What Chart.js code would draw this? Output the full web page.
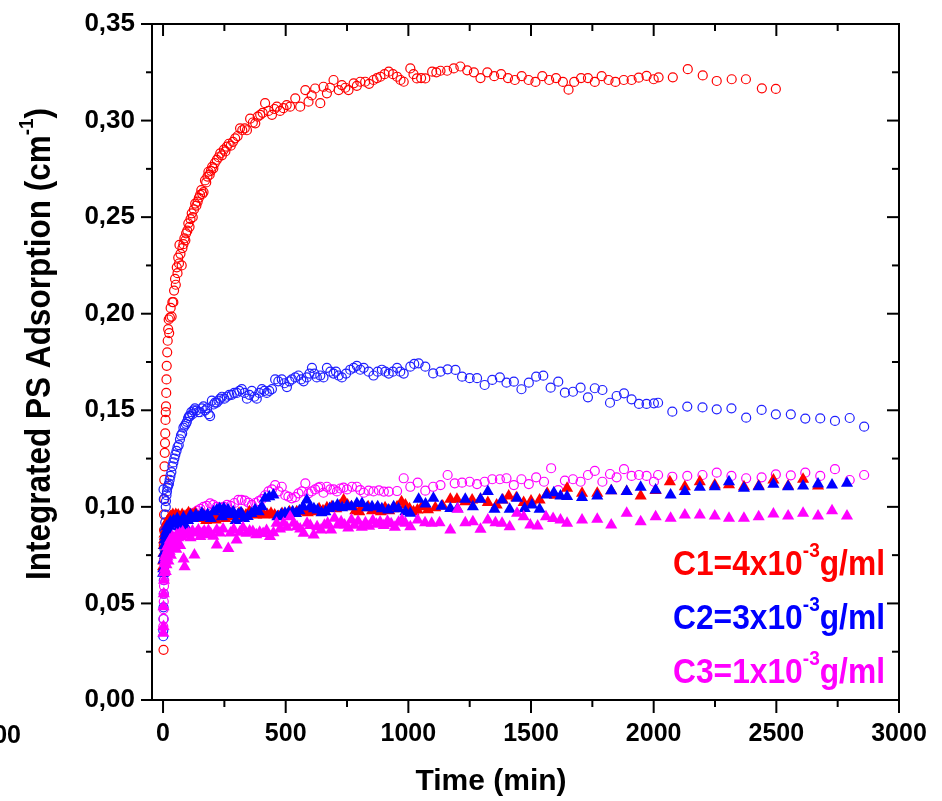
<!DOCTYPE html>
<html>
<head>
<meta charset="utf-8">
<title>Integrated PS Adsorption vs Time</title>
<script src="https://cdn.jsdelivr.net/npm/chart.js@4.4.1/dist/chart.umd.min.js"></script>
<style>
  html, body { margin: 0; padding: 0; background: #fff; }
  #chart { display: block; }
</style>
</head>
<body>
<canvas id="chart" width="942" height="801"></canvas>
<script>
// ── Axis data ───────────────────────────────────────────
const X_TICKS = [0, 500, 1000, 1500, 2000, 2500, 3000];
const X_MINOR = [250, 750, 1250, 1750, 2250, 2750];
const Y_TICKS = [0, 0.05, 0.1, 0.15, 0.2, 0.25, 0.3, 0.35];
const Y_MINOR = [0.025, 0.075, 0.125, 0.175, 0.225, 0.275, 0.325];
const X_TITLE = "Time (min)";
const Y_TITLE = ["Integrated PS Adsorption (cm", "-1", ")"];
const LABELS = [
  ["C1=4x10", "-3", "g/ml"],
  ["C2=3x10", "-3", "g/ml"],
  ["C3=1x10", "-3", "g/ml"],
];
const STRAY_LABEL = "00";

// ── Series: [time (min), adsorption (cm^-1)] ─────────────
// open circles
const RED_CIRCLES = [
  [2,0.026],[3,0.072],[3,0.080],[4,0.088],[4,0.096],[5,0.104],[5,0.114],[6,0.121],[7,0.128],[8,0.133],
  [9,0.138],[10,0.145],[11,0.149],[12,0.152],[13,0.159],[14,0.166],[15,0.173],[17,0.180],[19,0.186],[21,0.192],
  [23,0.197],[25,0.190],[28,0.198],[31,0.203],[35,0.1985],[38,0.206],[42,0.206],[45,0.212],[49,0.218],[52,0.215],
  [56,0.224],[59,0.221],[62,0.229],[65,0.226],[67,0.2356],[71,0.231],[76,0.225],[79,0.234],[83,0.236],[87,0.239],
  [91,0.238],[94,0.2416],[99,0.243],[103,0.2468],[108,0.245],[112,0.249],[117,0.252],[121,0.250],[126,0.254],[131,0.257],
  [136,0.256],[141,0.258],[146,0.260],[151,0.2615],[156,0.264],[160,0.262],[165,0.263],[171,0.269],[176,0.268],[181,0.271],
  [185,0.2735],[190,0.272],[195,0.274],[200,0.276],[205,0.2753],[211,0.278],[219,0.2796],[226,0.281],[233,0.283],[240,0.282],
  [248,0.285],[254,0.284],[260,0.2865],[268,0.288],[276,0.287],[285,0.289],[294,0.2908],[304,0.292],[314,0.296],[323,0.295],
  [333,0.296],[342,0.295],[355,0.301],[366,0.299],[376,0.2986],[386,0.302],[396,0.303],[406,0.304],[416,0.309],[430,0.305],
  [444,0.303],[454,0.306],[464,0.3072],[477,0.305],[491,0.3064],[504,0.308],[518,0.3072],[539,0.3115],[559,0.3072],[580,0.3158],
  [593,0.3098],[606,0.313],[620,0.3166],[641,0.309],[654,0.3175],[668,0.3141],[681,0.317],[695,0.321],[716,0.3158],[729,0.3184],
  [743,0.317],[756,0.3158],[777,0.3193],[790,0.318],[804,0.3201],[824,0.3201],[840,0.319],[858,0.321],[872,0.322],[886,0.3227],
  [903,0.324],[920,0.3253],[937,0.324],[954,0.3227],[968,0.321],[981,0.3201],[1008,0.327],[1021,0.324],[1035,0.3218],[1052,0.322],
  [1069,0.3218],[1097,0.3253],[1114,0.325],[1131,0.3258],[1158,0.3258],[1185,0.327],[1212,0.328],[1240,0.326],[1267,0.325],[1294,0.322],
  [1322,0.325],[1350,0.323],[1378,0.324],[1406,0.322],[1434,0.321],[1462,0.323],[1490,0.321],[1518,0.320],[1546,0.323],[1574,0.321],
  [1602,0.322],[1630,0.320],[1653,0.316],[1676,0.320],[1704,0.322],[1732,0.322],[1760,0.320],[1788,0.323],[1816,0.321],[1844,0.320],
  [1878,0.321],[1910,0.321],[1939,0.3222],[1971,0.3231],[2000,0.3214],[2020,0.3224],[2078,0.3224],[2139,0.3266],[2200,0.3234],[2257,0.3205],
  [2318,0.3214],[2376,0.3214],[2441,0.3167],[2498,0.3164],
];
const BLUE_CIRCLES = [
  [1,0.033],[1,0.036],[2,0.042],[2,0.048],[3,0.055],[3,0.062],[4,0.068],[5,0.073],[6,0.078],[7,0.083],
  [8,0.088],[9,0.092],[10,0.096],[11,0.100],[2,0.109],[3,0.104],[12,0.103],[14,0.106],[16,0.108],[18,0.110],
  [21,0.111],[24,0.112],[27,0.114],[30,0.116],[34,0.118],[38,0.121],[42,0.123],[46,0.125],[50,0.127],[55,0.129],
  [59,0.131],[64,0.132],[69,0.135],[73,0.137],[78,0.138],[83,0.141],[88,0.142],[93,0.143],[97,0.144],[102,0.146],
  [106,0.147],[110,0.147],[115,0.149],[120,0.148],[124,0.150],[130,0.151],[137,0.150],[144,0.149],[151,0.149],[158,0.151],
  [165,0.152],[172,0.150],[180,0.151],[186,0.148],[192,0.147],[199,0.155],[206,0.153],[212,0.154],[219,0.154],[226,0.155],
  [233,0.156],[240,0.157],[250,0.156],[260,0.157],[270,0.158],[280,0.158],[290,0.159],[301,0.159],[311,0.160],[321,0.161],
  [332,0.159],[342,0.156],[352,0.158],[362,0.160],[372,0.157],[382,0.156],[392,0.159],[403,0.161],[413,0.160],[423,0.159],
  [433,0.160],[444,0.161],[457,0.166],[470,0.165],[484,0.166],[495,0.164],[505,0.162],[515,0.165],[525,0.166],[539,0.167],
  [552,0.168],[563,0.166],[573,0.165],[586,0.167],[597,0.169],[607,0.172],[617,0.169],[627,0.167],[641,0.168],[654,0.167],
  [668,0.172],[682,0.170],[695,0.169],[705,0.170],[716,0.168],[729,0.167],[746,0.169],[763,0.171],[777,0.172],[790,0.173],
  [804,0.171],[818,0.172],[838,0.170],[858,0.168],[875,0.170],[892,0.171],[906,0.170],[920,0.169],[937,0.170],[954,0.172],
  [967,0.170],[981,0.169],[1008,0.1726],[1024,0.174],[1042,0.1743],[1069,0.1726],[1101,0.1691],[1131,0.170],[1160,0.1712],[1192,0.1709],
  [1219,0.1674],[1250,0.1666],[1280,0.1666],[1311,0.1631],[1342,0.1657],[1373,0.167],[1400,0.1643],[1430,0.1648],[1461,0.1609],[1491,0.1643],
  [1521,0.1674],[1550,0.1679],[1580,0.1617],[1611,0.1648],[1638,0.1591],[1671,0.1596],[1702,0.1617],[1732,0.1567],[1760,0.1614],[1791,0.1605],
  [1822,0.1539],[1849,0.1574],[1879,0.1588],[1910,0.1557],[1940,0.1533],[1971,0.1533],[2001,0.1536],[2018,0.1539],[2076,0.1493],[2137,0.1519],
  [2199,0.1515],[2257,0.1505],[2317,0.151],[2377,0.1462],[2440,0.1502],[2498,0.1479],[2559,0.1479],[2618,0.1457],[2679,0.1458],[2739,0.1445],
  [2799,0.146],[2858,0.1415],
];
const MAGENTA_CIRCLES = [
  [1,0.038],[2,0.042],[2,0.047],[3,0.051],[3,0.055],[4,0.059],[5,0.062],[6,0.066],[8,0.070],[10,0.073],
  [13,0.076],[16,0.079],[20,0.081],[25,0.083],[30,0.085],[36,0.087],[43,0.088],[50,0.089],[58,0.090],[66,0.091],
  [75,0.092],[85,0.093],[95,0.094],[105,0.095],[116,0.096],[128,0.097],[140,0.098],[152,0.099],[165,0.100],[178,0.1005],
  [192,0.1018],[205,0.101],[219,0.100],[233,0.0995],[247,0.100],[261,0.101],[275,0.1005],[291,0.102],[307,0.1036],[320,0.1036],
  [334,0.1032],[348,0.1022],[362,0.101],[376,0.102],[390,0.103],[403,0.104],[416,0.106],[430,0.108],[444,0.109],[457,0.1113],
  [471,0.108],[484,0.1104],[498,0.106],[511,0.1053],[525,0.1044],[539,0.105],[552,0.107],[566,0.108],[580,0.1122],[593,0.107],
  [606,0.108],[620,0.109],[633,0.110],[641,0.1104],[654,0.1073],[668,0.1104],[682,0.109],[695,0.1091],[709,0.108],[723,0.1095],
  [736,0.110],[750,0.109],[770,0.1104],[790,0.1104],[804,0.1087],[818,0.1073],[838,0.1084],[858,0.108],[880,0.1085],[900,0.1079],
  [920,0.1079],[954,0.1082],[981,0.1148],[1008,0.1104],[1038,0.1125],[1069,0.1084],[1101,0.1104],[1131,0.1113],[1160,0.1165],[1189,0.1122],
  [1219,0.1125],[1250,0.113],[1280,0.1118],[1311,0.113],[1342,0.1143],[1373,0.1143],[1400,0.1148],[1430,0.1113],[1461,0.1143],[1491,0.1118],
  [1521,0.1153],[1553,0.113],[1582,0.120],[1611,0.1087],[1638,0.1136],[1671,0.1143],[1702,0.113],[1732,0.1165],[1760,0.1186],[1791,0.113],
  [1822,0.117],[1849,0.1153],[1879,0.1195],[1910,0.116],[1940,0.1165],[1971,0.116],[2001,0.113],[2018,0.1165],[2076,0.1156],[2137,0.116],
  [2199,0.1165],[2257,0.1177],[2317,0.116],[2377,0.1148],[2440,0.1153],[2498,0.1168],[2559,0.1163],[2618,0.1177],[2679,0.116],[2739,0.1195],
  [2799,0.1139],[2858,0.1165],
];
// filled triangles
const RED_TRIANGLES = [
  [0,0.069],[1,0.072],[2,0.076],[3,0.080],[4,0.083],[6,0.086],[8,0.0846],[10,0.088],[13,0.090],[16,0.092],
  [19,0.093],[22,0.0915],[26,0.094],[30,0.095],[35,0.0949],[40,0.096],[46,0.094],[52,0.096],[58,0.095],[62,0.0958],
  [70,0.094],[78,0.096],[86,0.095],[95,0.0955],[104,0.097],[113,0.096],[122,0.0958],[131,0.0967],[142,0.095],[153,0.094],
  [165,0.0958],[176,0.093],[188,0.0945],[200,0.096],[215,0.0932],[228,0.095],[240,0.0958],[254,0.094],[268,0.0955],[282,0.0967],
  [296,0.095],[310,0.0967],[324,0.096],[338,0.0958],[352,0.0975],[366,0.096],[380,0.0958],[395,0.097],[410,0.0958],[425,0.096],
  [440,0.0967],[455,0.0958],[470,0.095],[485,0.0966],[500,0.096],[515,0.0975],[530,0.097],[545,0.0975],[560,0.0975],[575,0.098],
  [590,0.097],[605,0.0985],[620,0.0975],[636,0.099],[652,0.098],[668,0.0995],[688,0.1001],[706,0.099],[720,0.1005],[736,0.1036],
  [752,0.101],[768,0.1001],[784,0.098],[800,0.0975],[818,0.0995],[836,0.1001],[852,0.098],[870,0.099],[888,0.0975],[905,0.0995],
  [922,0.098],[938,0.099],[954,0.1001],[972,0.1027],[988,0.101],[1005,0.099],[1021,0.0975],[1037,0.0984],[1055,0.100],[1080,0.0985],
  [1110,0.0995],[1140,0.1005],[1171,0.1039],[1198,0.1039],[1232,0.1027],[1260,0.1036],[1294,0.1039],[1324,0.1022],[1360,0.101],[1385,0.1035],
  [1409,0.1056],[1440,0.1047],[1470,0.1022],[1500,0.103],[1535,0.1036],[1566,0.107],[1597,0.106],[1647,0.1096],[1708,0.107],[1770,0.107],
  [1827,0.1084],[1890,0.1079],[1947,0.1056],[2008,0.1085],[2066,0.113],[2127,0.1104],[2188,0.113],[2249,0.1113],[2307,0.1115],[2368,0.1104],
  [2428,0.1108],[2488,0.1139],[2548,0.1108],[2609,0.1143],[2670,0.1108],
];
const BLUE_TRIANGLES = [
  [0,0.0656],[1,0.068],[2,0.0725],[3,0.076],[5,0.080],[7,0.0828],[9,0.085],[12,0.087],[15,0.0897],[19,0.088],
  [24,0.090],[30,0.0923],[36,0.091],[43,0.093],[50,0.0923],[58,0.094],[66,0.0897],[74,0.092],[83,0.0945],[92,0.090],
  [102,0.093],[112,0.0958],[122,0.094],[134,0.0958],[146,0.0945],[158,0.0967],[170,0.095],[182,0.096],[194,0.094],[206,0.0975],
  [219,0.0984],[231,0.0992],[240,0.0949],[248,0.0992],[257,0.097],[265,0.0985],[275,0.096],[286,0.0975],[296,0.093],[306,0.096],
  [318,0.097],[330,0.094],[345,0.095],[360,0.0965],[375,0.0985],[390,0.0975],[403,0.100],[416,0.1044],[433,0.1052],[450,0.1061],
  [466,0.0949],[482,0.096],[497,0.0967],[512,0.097],[528,0.0975],[542,0.0965],[556,0.098],[571,0.100],[586,0.1036],[600,0.1001],
  [615,0.099],[630,0.0984],[646,0.097],[662,0.0975],[679,0.0992],[693,0.1001],[711,0.101],[730,0.0995],[750,0.1005],[768,0.100],
  [790,0.1018],[811,0.1018],[832,0.0995],[852,0.1001],[875,0.1001],[892,0.099],[918,0.0984],[940,0.1001],[960,0.099],[988,0.0975],
  [1008,0.0967],[1042,0.1039],[1070,0.1015],[1102,0.1044],[1135,0.1003],[1171,0.0992],[1200,0.099],[1232,0.1039],[1263,0.1001],[1294,0.1039],
  [1324,0.1079],[1351,0.0987],[1382,0.1036],[1413,0.0987],[1443,0.1044],[1474,0.0992],[1504,0.101],[1535,0.0987],[1563,0.1061],[1593,0.1073],
  [1620,0.1056],[1647,0.1053],[1708,0.1049],[1770,0.1056],[1827,0.1084],[1890,0.1079],[1947,0.1101],[2008,0.1087],[2069,0.1061],[2127,0.1079],
  [2188,0.1101],[2249,0.1104],[2307,0.113],[2368,0.1096],[2428,0.1104],[2488,0.1117],[2548,0.1104],[2609,0.1108],[2670,0.1118],[2727,0.1113],
  [2788,0.1122],
];
const MAGENTA_TRIANGLES = [
  [1,0.0345],[2,0.038],[2,0.0483],[3,0.055],[4,0.062],[5,0.066],[6,0.0705],[7,0.068],[8,0.0742],[9,0.072],
  [10,0.073],[11,0.0665],[13,0.076],[14,0.070],[16,0.0794],[18,0.074],[20,0.078],[22,0.072],[24,0.081],[27,0.077],
  [28,0.0828],[32,0.075],[33,0.080],[38,0.0845],[40,0.079],[44,0.083],[46,0.081],[50,0.0828],[54,0.078],[56,0.0855],
  [60,0.0815],[62,0.084],[68,0.0862],[70,0.080],[74,0.0845],[80,0.087],[84,0.073],[88,0.069],[96,0.0855],[104,0.0865],
  [112,0.084],[120,0.0875],[128,0.0751],[136,0.0865],[144,0.088],[152,0.0846],[160,0.0863],[168,0.0875],[176,0.0855],[185,0.0878],
  [194,0.0862],[205,0.0848],[219,0.088],[219,0.0803],[232,0.0865],[245,0.0885],[266,0.0785],[275,0.0865],[288,0.0883],[300,0.0828],
  [313,0.0868],[326,0.0892],[340,0.0863],[353,0.0875],[366,0.0872],[380,0.0855],[394,0.0868],[408,0.0862],[422,0.0877],[436,0.0846],
  [450,0.0866],[463,0.0915],[477,0.0885],[491,0.0915],[505,0.0895],[518,0.0949],[532,0.0915],[546,0.0897],[559,0.0885],[573,0.0863],
  [587,0.0915],[600,0.0903],[614,0.0854],[628,0.0897],[644,0.088],[658,0.0905],[671,0.0915],[685,0.088],[699,0.0941],[712,0.0906],
  [726,0.0923],[740,0.0906],[755,0.089],[768,0.0932],[780,0.0905],[795,0.0925],[810,0.0895],[825,0.0918],[840,0.090],[855,0.093],
  [870,0.091],[885,0.0922],[900,0.0903],[915,0.0925],[930,0.0912],[945,0.0895],[960,0.092],[974,0.0932],[988,0.0915],[1008,0.0897],
  [1038,0.0932],[1068,0.0918],[1095,0.0915],[1127,0.0918],[1171,0.088],[1201,0.0987],[1232,0.0918],[1263,0.0923],[1294,0.0884],[1324,0.0932],
  [1355,0.0918],[1382,0.0915],[1413,0.0897],[1443,0.0967],[1470,0.0949],[1497,0.0906],[1527,0.0901],[1561,0.0949],[1590,0.094],[1620,0.0932],
  [1647,0.0915],[1708,0.0932],[1770,0.0936],[1827,0.0906],[1890,0.0967],[1947,0.0923],[2008,0.0949],[2069,0.0941],[2127,0.0958],[2188,0.0958],
  [2249,0.0953],[2307,0.0941],[2368,0.0941],[2428,0.0949],[2488,0.0963],[2548,0.0953],[2609,0.0967],[2670,0.0953],[2727,0.098],[2788,0.0953],
];

// ── Styling ─────────────────────────────────────────────
const RED = "#ff0000", BLUE = "#0000ff", MAGENTA = "#ff00ff";
const FONT = '"Liberation Sans", Arial, Helvetica, sans-serif';

const toPts = (arr) => arr.map(([x, y]) => ({ x, y }));
const circles = (data, color, order) => ({
  data: toPts(data), order,
  pointStyle: "circle", pointRadius: 4.5, borderWidth: 1.2,
  borderColor: color, backgroundColor: "rgba(0,0,0,0)",
});
const triangles = (data, color, order) => ({
  data: toPts(data), order,
  pointStyle: "triangle", pointRadius: 7, borderWidth: 0,
  borderColor: color, backgroundColor: color,
});

// text with a raised (superscript) middle part; squeezed to `width` if given
function richText(ctx, parts, x, y, align, width) {
  const sizes = [parts.big, parts.small, parts.big];
  const rises = [0, parts.rise, 0];
  const widths = parts.text.map((t, i) => {
    ctx.font = `bold ${sizes[i]}px ${FONT}`;
    return ctx.measureText(t).width;
  });
  const total = widths.reduce((a, b) => a + b, 0);
  const k = width ? width / total : 1;
  ctx.save();
  ctx.translate(x, y);
  ctx.scale(k, 1);
  let cx = align === "right" ? -total : 0;
  parts.text.forEach((t, i) => {
    ctx.font = `bold ${sizes[i]}px ${FONT}`;
    ctx.textAlign = "left";
    ctx.textBaseline = "alphabetic";
    ctx.fillText(t, cx, -rises[i]);
    cx += widths[i];
  });
  ctx.restore();
}

const decorations = {
  id: "decorations",
  afterDraw(chart) {
    const { ctx, chartArea: a } = chart;
    const sx = chart.scales.x, sy = chart.scales.y;
    ctx.save();
    ctx.strokeStyle = "#000";
    ctx.lineWidth = 2;
    ctx.strokeRect(a.left, a.top, a.right - a.left, a.bottom - a.top);
    const seg = (x1, y1, x2, y2) => {
      ctx.beginPath(); ctx.moveTo(x1, y1); ctx.lineTo(x2, y2); ctx.stroke();
    };
    X_TICKS.forEach((v) => {
      const p = sx.getPixelForValue(v);
      seg(p, a.bottom, p, a.bottom + 13);
      seg(p, a.top, p, a.top + 12);
    });
    X_MINOR.forEach((v) => {
      const p = sx.getPixelForValue(v);
      seg(p, a.bottom, p, a.bottom + 7);
      seg(p, a.top, p, a.top + 7);
    });
    Y_TICKS.forEach((v) => {
      const p = sy.getPixelForValue(v);
      seg(a.left, p, a.left - 11, p);
      seg(a.right, p, a.right - 12, p);
    });
    Y_MINOR.forEach((v) => {
      const p = sy.getPixelForValue(v);
      seg(a.left, p, a.left - 6, p);
      seg(a.right, p, a.right - 7, p);
    });

    ctx.fillStyle = "#000";
    // x title
    ctx.font = `bold 30px ${FONT}`;
    ctx.textAlign = "center";
    ctx.textBaseline = "alphabetic";
    ctx.fillText(X_TITLE, 491, 790);

    // y title, rotated and condensed like the original
    ctx.save();
    ctx.translate(50, 580);
    ctx.rotate(-Math.PI / 2);
    richText(ctx, { text: Y_TITLE, big: 35, small: 21, rise: 17 }, 0, 0, "left", 472);
    ctx.restore();

    // series labels
    const colors = [RED, BLUE, MAGENTA];
    const baselines = [575, 629, 683];
    LABELS.forEach((lab, i) => {
      ctx.fillStyle = colors[i];
      richText(ctx, { text: lab, big: 35, small: 21, rise: 18 }, 885, baselines[i], "right", 212);
    });

    // cropped tick label at the far left
    ctx.fillStyle = "#000";
    ctx.font = `bold 25px ${FONT}`;
    ctx.textAlign = "right";
    ctx.fillText(STRAY_LABEL, 21, 743);
    ctx.restore();
  },
};

// invisible tick marks: they only set the gap between axis and labels
const hiddenTicks = (len) => ({
  display: true, drawOnChartArea: false, drawTicks: true,
  tickLength: len, color: "rgba(0,0,0,0)",
});

new Chart(document.getElementById("chart"), {
  type: "scatter",
  data: {
    datasets: [
      triangles(MAGENTA_TRIANGLES, MAGENTA, 0),
      triangles(BLUE_TRIANGLES, BLUE, 1),
      triangles(RED_TRIANGLES, RED, 2),
      circles(MAGENTA_CIRCLES, MAGENTA, 3),
      circles(BLUE_CIRCLES, "#1f1fff", 4),
      circles(RED_CIRCLES, RED, 5),
    ],
  },
  options: {
    responsive: false,
    animation: false,
    devicePixelRatio: 1,
    layout: { padding: { top: 24, right: 43, bottom: 0, left: 0 } },
    plugins: { legend: { display: false }, tooltip: { enabled: false } },
    scales: {
      x: {
        type: "linear",
        min: -45,
        max: 3000,
        grid: hiddenTicks(19),
        border: { display: false },
        afterBuildTicks: (s) => { s.ticks = X_TICKS.map((v) => ({ value: v })); },
        afterFit: (s) => { s.height = 101; },
        ticks: {
          padding: 0,
          color: "#000",
          font: { family: FONT, size: 25, weight: "bold" },
          callback: (v) => String(v),
        },
      },
      y: {
        type: "linear",
        min: 0,
        max: 0.35,
        grid: hiddenTicks(17),
        border: { display: false },
        afterBuildTicks: (s) => { s.ticks = Y_TICKS.map((v) => ({ value: v })); },
        afterFit: (s) => { s.width = 152; },
        ticks: {
          padding: 0,
          color: "#000",
          font: { family: FONT, size: 26, weight: "bold" },
          callback: (v) => v.toFixed(2).replace(".", ","),
        },
      },
    },
  },
  plugins: [decorations],
});
</script>
</body>
</html>
